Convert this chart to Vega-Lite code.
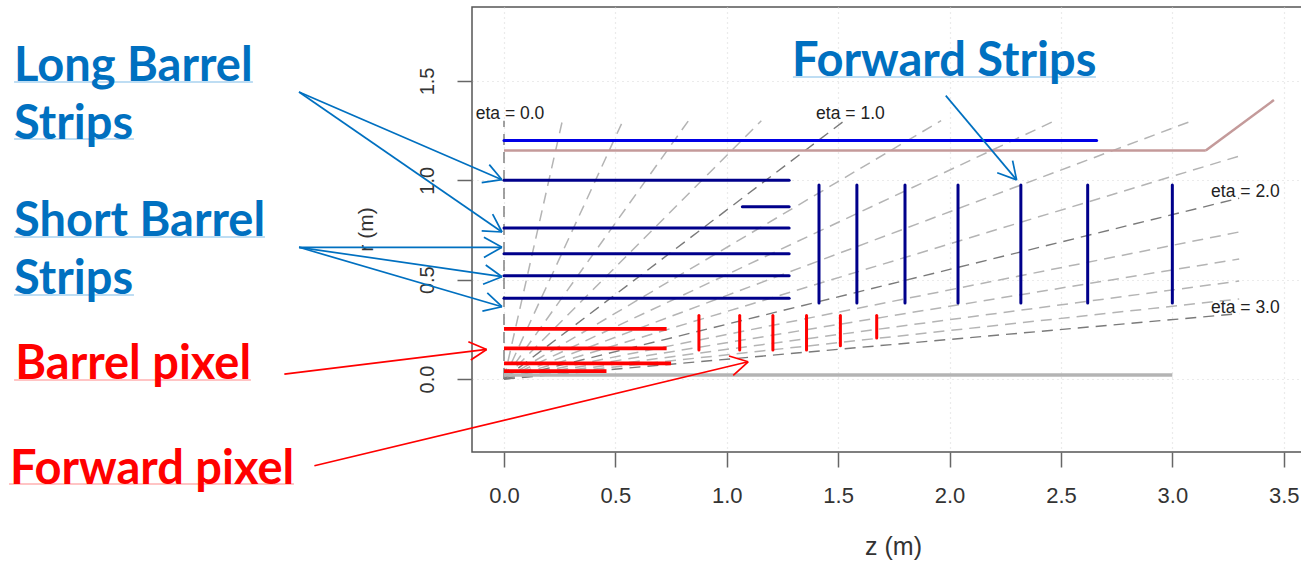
{
"$schema":"https://vega.github.io/schema/vega-lite/v6.json",
"width":830,"height":445,
"autosize":{"type":"none"},
"padding":{"left":472,"top":7,"right":0,"bottom":111},
"background":"white",
"config":{"view":{"stroke":"#555","strokeWidth":1.5},"text":{"font":"Liberation Sans"}},
"datasets":{
"eta_minor":[
{"eta":0.2,"z":0,"r":0,"z2":0.262,"r2":1.3},{"eta":0.4,"z":0,"r":0,"z2":0.534,"r2":1.3},{"eta":0.6,"z":0,"r":0,"z2":0.828,"r2":1.3},{"eta":0.8,"z":0,"r":0,"z2":1.155,"r2":1.3},{"eta":1.2,"z":0,"r":0,"z2":1.962,"r2":1.3},{"eta":1.4,"z":0,"r":0,"z2":2.473,"r2":1.3},{"eta":1.6,"z":0,"r":0,"z2":3.09,"r2":1.3},{"eta":1.8,"z":0,"r":0,"z2":3.3,"r2":1.122},{"eta":2.2,"z":0,"r":0,"z2":3.3,"r2":0.74},{"eta":2.4,"z":0,"r":0,"z2":3.3,"r2":0.604},{"eta":2.6,"z":0,"r":0,"z2":3.3,"r2":0.493},{"eta":2.8,"z":0,"r":0,"z2":3.3,"r2":0.403}],
"eta_major":[
{"eta":0,"z":0,"r":0,"z2":0,"r2":1.3},{"eta":1,"z":0,"r":0,"z2":1.528,"r2":1.3},{"eta":2,"z":0,"r":0,"z2":3.3,"r2":0.91},{"eta":3,"z":0,"r":0,"z2":3.3,"r2":0.329}],
"navy":[
{"z":0,"r":1.0,"z2":1.28,"r2":1.0},{"z":1.07,"r":0.867,"z2":1.28,"r2":0.867},{"z":0,"r":0.76,"z2":1.28,"r2":0.76},{"z":0,"r":0.63,"z2":1.28,"r2":0.63},{"z":0,"r":0.52,"z2":1.28,"r2":0.52},{"z":0,"r":0.406,"z2":1.28,"r2":0.406},
{"z":1.414,"r":0.976,"z2":1.414,"r2":0.383},{"z":1.584,"r":0.976,"z2":1.584,"r2":0.383},{"z":1.8,"r":0.976,"z2":1.8,"r2":0.383},{"z":2.038,"r":0.976,"z2":2.038,"r2":0.383},{"z":2.32,"r":0.976,"z2":2.32,"r2":0.383},{"z":2.62,"r":0.976,"z2":2.62,"r2":0.383},{"z":3.0,"r":0.976,"z2":3.0,"r2":0.383}],
"blue":[{"z":0,"r":1.2,"z2":2.66,"r2":1.2}],
"pink":[{"z":0,"r":1.15,"z2":3.15,"r2":1.15},{"z":3.15,"r":1.15,"z2":3.456,"r2":1.404}],
"beam":[{"z":0,"r":0.02,"z2":3.0,"r2":0.02}],
"red_h":[{"z":0,"r":0.252,"z2":0.73,"r2":0.252},{"z":0,"r":0.154,"z2":0.73,"r2":0.154},{"z":0,"r":0.079,"z2":0.75,"r2":0.079},{"z":0,"r":0.04,"z2":0.46,"r2":0.04}],
"red_v":[{"z":0.875,"r":0.32,"z2":0.875,"r2":0.146},{"z":1.058,"r":0.32,"z2":1.058,"r2":0.146},{"z":1.207,"r":0.32,"z2":1.207,"r2":0.146},{"z":1.358,"r":0.32,"z2":1.358,"r2":0.146},{"z":1.51,"r":0.32,"z2":1.51,"r2":0.168},{"z":1.673,"r":0.32,"z2":1.673,"r2":0.206}],
"eta_labels":[{"label":"eta = 0.0","z":0.027,"r":1.334},{"label":"eta = 1.0","z":1.555,"r":1.334},{"label":"eta = 2.0","z":3.328,"r":0.941},{"label":"eta = 3.0","z":3.328,"r":0.357}],
"arrows_blue":[
{"z":-0.92,"r":1.444,"z2":-0.009,"r2":1.003},{"z":-0.066,"r":1.079,"z2":-0.009,"r2":1.003},{"z":-0.1,"r":0.988,"z2":-0.009,"r2":1.003},
{"z":-0.92,"r":1.444,"z2":-0.009,"r2":0.74},{"z":-0.051,"r":0.83,"z2":-0.009,"r2":0.74},{"z":-0.1,"r":0.746,"z2":-0.009,"r2":0.74},
{"z":-0.92,"r":0.663,"z2":-0.009,"r2":0.663},{"z":-0.09,"r":0.713,"z2":-0.009,"r2":0.663},{"z":-0.09,"r":0.612,"z2":-0.009,"r2":0.663},
{"z":-0.92,"r":0.663,"z2":-0.009,"r2":0.515},{"z":-0.082,"r":0.574,"z2":-0.009,"r2":0.515},{"z":-0.094,"r":0.477,"z2":-0.009,"r2":0.515},
{"z":-0.92,"r":0.663,"z2":-0.009,"r2":0.364},{"z":-0.075,"r":0.434,"z2":-0.009,"r2":0.364},{"z":-0.097,"r":0.342,"z2":-0.009,"r2":0.364},
{"z":1.983,"r":1.426,"z2":2.301,"r2":1.002},{"z":2.283,"r":1.099,"z2":2.301,"r2":1.002},{"z":2.214,"r":1.038,"z2":2.301,"r2":1.002}],
"arrows_red":[
{"z":-0.986,"r":0.025,"z2":-0.078,"r2":0.149},{"z":-0.16,"r":0.188,"z2":-0.078,"r2":0.149},{"z":-0.149,"r":0.096,"z2":-0.078,"r2":0.149},
{"z":-0.851,"r":-0.436,"z2":1.096,"r2":0.087},{"z":1.01,"r":0.116,"z2":1.096,"r2":0.087},{"z":1.029,"r":0.019,"z2":1.096,"r2":0.087}],
"under_blue":[{"z":-2.199,"r":1.495,"z2":-1.127,"r2":1.495},{"z":-2.199,"r":1.208,"z2":-1.661,"r2":1.208},{"z":-2.199,"r":0.715,"z2":-1.073,"r2":0.715},{"z":-2.199,"r":0.423,"z2":-1.661,"r2":0.423},{"z":1.297,"r":1.52,"z2":2.657,"r2":1.52}],
"under_red":[{"z":-2.199,"r":-0.005,"z2":-1.136,"r2":-0.005},{"z":-2.222,"r":-0.528,"z2":-0.943,"r2":-0.528}],
"text_blue":[{"label":"Long Barrel","z":-2.199,"r":1.5},{"label":"Strips","z":-2.199,"r":1.208},{"label":"Short Barrel","z":-2.199,"r":0.72},{"label":"Strips","z":-2.199,"r":0.428},{"label":"Forward Strips","z":1.293,"r":1.525}],
"text_red":[{"label":"Barrel pixel","z":-2.194,"r":0.0},{"label":"Forward pixel","z":-2.217,"r":-0.528}]
},
"encoding":{
"x":{"field":"z","type":"quantitative","scale":{"domain":[-0.1436,3.582],"nice":false,"zero":false},
"axis":{"values":[0,0.5,1,1.5,2,2.5,3,3.5],"format":".1f","title":"z (m)","titleX":421,"titleY":82,"titleFont":"Liberation Sans","titleFontSize":25,"titleFontWeight":"normal","titleColor":"#333","labelFont":"Liberation Sans","labelFontSize":22,"labelColor":"#333","labelPadding":18,"labelOverlap":false,"labelFlush":false,"tickSize":15,"tickColor":"#666","tickWidth":1.5,"domain":false,"grid":true,"gridColor":"#d8d8d8","gridDash":[1,4],"gridWidth":1.2}},
"y":{"field":"r","type":"quantitative","scale":{"domain":[-0.367,1.872],"nice":false,"zero":false},
"axis":{"values":[0,0.5,1,1.5],"format":".1f","title":"r (m)","titleX":-96,"titleY":222,"titleAngle":-90,"titleFont":"Liberation Sans","titleFontSize":21,"titleFontWeight":"normal","titleColor":"#333","labelFont":"Liberation Sans","labelFontSize":20,"labelColor":"#333","labelAngle":-90,"labelAlign":"center","labelBaseline":"bottom","labelPadding":20,"labelOverlap":false,"labelFlush":false,"tickSize":15,"tickColor":"#666","tickWidth":1.5,"domain":false,"grid":true,"gridColor":"#d8d8d8","gridDash":[1,4],"gridWidth":1.2}}
},
"layer":[
{"data":{"name":"eta_minor"},"mark":{"type":"rule","color":"#b4b4b4","strokeWidth":1.5,"strokeDash":[11,7]},"encoding":{"x2":{"field":"z2"},"y2":{"field":"r2"}}},
{"data":{"name":"eta_major"},"mark":{"type":"rule","color":"#7a7a7a","strokeWidth":1.4,"strokeDash":[11,7]},"encoding":{"x2":{"field":"z2"},"y2":{"field":"r2"}}},
{"data":{"name":"beam"},"mark":{"type":"rule","color":"#b4b4b4","strokeWidth":3.5},"encoding":{"x2":{"field":"z2"},"y2":{"field":"r2"}}},
{"data":{"name":"pink"},"mark":{"type":"rule","color":"#c49a9a","strokeWidth":2.5},"encoding":{"x2":{"field":"z2"},"y2":{"field":"r2"}}},
{"data":{"name":"blue"},"mark":{"type":"rule","color":"#0000e6","strokeWidth":3,"strokeCap":"round"},"encoding":{"x2":{"field":"z2"},"y2":{"field":"r2"}}},
{"data":{"name":"navy"},"mark":{"type":"rule","color":"#00008b","strokeWidth":3,"strokeCap":"round"},"encoding":{"x2":{"field":"z2"},"y2":{"field":"r2"}}},
{"data":{"name":"red_h"},"mark":{"type":"rule","color":"#ff0000","strokeWidth":3.8},"encoding":{"x2":{"field":"z2"},"y2":{"field":"r2"}}},
{"data":{"name":"red_v"},"mark":{"type":"rule","color":"#ff0000","strokeWidth":3,"strokeCap":"round"},"encoding":{"x2":{"field":"z2"},"y2":{"field":"r2"}}},
{"data":{"name":"eta_labels"},"mark":{"type":"text","font":"Liberation Sans","fontSize":17.5,"color":"#222","align":"center","baseline":"middle"},"encoding":{"text":{"field":"label"}}},
{"data":{"name":"under_blue"},"mark":{"type":"rule","color":"#a9d2ef","strokeWidth":1.5},"encoding":{"x2":{"field":"z2"},"y2":{"field":"r2"}}},
{"data":{"name":"under_red"},"mark":{"type":"rule","color":"#ffb0b0","strokeWidth":1.5},"encoding":{"x2":{"field":"z2"},"y2":{"field":"r2"}}},
{"data":{"name":"arrows_blue"},"mark":{"type":"rule","color":"#0070c0","strokeWidth":1.7},"encoding":{"x2":{"field":"z2"},"y2":{"field":"r2"}}},
{"data":{"name":"arrows_red"},"mark":{"type":"rule","color":"#ff0000","strokeWidth":1.7},"encoding":{"x2":{"field":"z2"},"y2":{"field":"r2"}}},
{"data":{"name":"text_blue"},"mark":{"type":"text","font":"Lato","fontWeight":"bold","fontSize":47,"color":"#0070c0","align":"left","baseline":"alphabetic"},"encoding":{"text":{"field":"label"}}},
{"data":{"name":"text_red"},"mark":{"type":"text","font":"Lato","fontWeight":"bold","fontSize":47,"color":"#ff0000","align":"left","baseline":"alphabetic"},"encoding":{"text":{"field":"label"}}}
]
}
